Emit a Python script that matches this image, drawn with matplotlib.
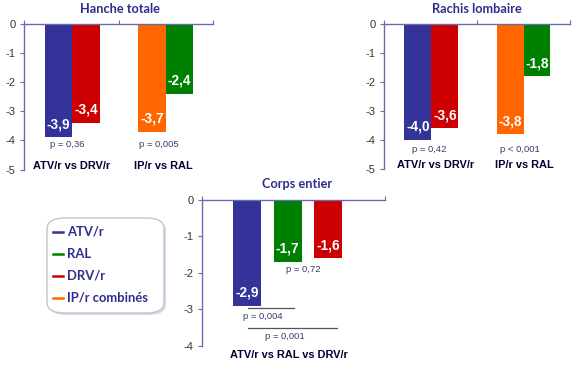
import matplotlib
matplotlib.use("Agg")
import matplotlib.pyplot as plt
from matplotlib.patches import FancyBboxPatch
from matplotlib.lines import Line2D

plt.rcParams['axes.unicode_minus'] = False

# ---------------- data ----------------
hanche_labels = ["ATV/r", "DRV/r", "IP/r", "RAL"]
hanche_values = [-3.9, -3.4, -3.7, -2.4]
rachis_values = [-4.0, -3.6, -3.8, -1.8]
corps_labels = ["ATV/r", "RAL", "DRV/r"]
corps_values = [-2.9, -1.7, -1.6]
pair_categories = ["ATV/r vs DRV/r", "IP/r vs RAL"]
corps_category = "ATV/r vs RAL vs DRV/r"
hanche_p = ["p = 0,36", "p = 0,005"]
rachis_p = ["p = 0,42", "p < 0,001"]
corps_p = ["p = 0,72", "p = 0,004", "p = 0,001"]
titles = ["Hanche totale", "Rachis lombaire", "Corps entier"]
legend_labels = ["ATV/r", "RAL", "DRV/r", "IP/r combinés"]

BLUE, GREEN, RED, ORANGE = "#333399", "#008000", "#CC0000", "#FF6600"
color_of = {"ATV/r": BLUE, "RAL": GREEN, "DRV/r": RED, "IP/r": ORANGE, "IP/r combinés": ORANGE}
AXCOL = "#6A6AAE"
TITLECOL = "#2E2E8C"
PCOL = "#3A3A6E"

W, H = 585, 366
fig = plt.figure(figsize=(W / 100, H / 100), dpi=100)
fig.patch.set_facecolor("white")

TITLE_FONT = dict(family=["Lato", "DejaVu Sans"], fontweight="bold", fontsize=9.2, color=TITLECOL)
ARIAL = ["Liberation Sans", "DejaVu Sans"]


def px_axes(left, top, right, bottom):
    return fig.add_axes([left / W, 1 - bottom / H, (right - left) / W, (bottom - top) / H])


def style_axes(ax, ymin, xmax):
    ax.set_ylim(ymin, 0)
    ax.set_xlim(0, xmax)
    for s in ["right", "bottom"]:
        ax.spines[s].set_visible(False)
    for s in ["left", "top"]:
        ax.spines[s].set_color(AXCOL)
        ax.spines[s].set_linewidth(1.0)
    ax.xaxis.set_ticks_position("top")
    ax.set_xticks(range(0, xmax + 1))
    ax.set_xticklabels([])
    ax.tick_params(axis="x", direction="out", length=3, color=AXCOL)
    yt = list(range(int(ymin), 1))
    ax.set_yticks(yt)
    ax.set_yticklabels([str(v) for v in yt], family=ARIAL, fontsize=8, color="#333333")
    ax.tick_params(axis="y", direction="out", length=3, color=AXCOL, pad=3)
    ax.patch.set_alpha(0)


def fmt(v):
    return f"{v:.1f}".replace(".", ",")


def bar_labels(ax, xs, vals):
    for x, v in zip(xs, vals):
        ax.annotate(fmt(v), xy=(x, v), xytext=(0, 9.5), textcoords="offset points",
                    ha="center", va="center", color="white", fontweight="bold",
                    family=ARIAL, fontsize=9.8)


def pair_panel(ax, values, pvals, p_pos, cat_pos, p_y):
    centers = [0.51, 1.5]
    off, bw = 0.145, 0.29
    xs = [centers[0] - off, centers[0] + off, centers[1] - off, centers[1] + off]
    cols = [color_of[l] for l in hanche_labels]
    ax.bar(xs, values, width=bw, color=cols, align="center")
    bar_labels(ax, xs, values)
    for px, t in zip(p_pos, pvals):
        ax.text(px, p_y, t, ha="center", va="center", fontsize=6.8, color=PCOL, family=ARIAL)
    for cx, t in zip(cat_pos, pair_categories):
        ax.text(cx, -4.87, t, ha="center", va="center", fontsize=7.9, fontweight="bold",
                color="#000033", family=ARIAL)


# Panel 1 : Hanche totale
ax1 = px_axes(24, 24, 213, 169.5)
style_axes(ax1, -5, 2)
pair_panel(ax1, hanche_values, hanche_p, [0.455, 1.43], [0.508, 1.47], -4.15)
fig.text(120 / W, 1 - 9 / H, titles[0], ha="center", va="center", **TITLE_FONT)

# Panel 2 : Rachis lombaire
ax2 = px_axes(384, 24, 570, 169)
style_axes(ax2, -5, 2)
pair_panel(ax2, rachis_values, rachis_p, [0.484, 1.462], [0.559, 1.505], -4.33)
fig.text(477 / W, 1 - 9 / H, titles[1], ha="center", va="center", **TITLE_FONT)

# Panel 3 : Corps entier
ax3 = px_axes(202, 200, 385, 345.7)
style_axes(ax3, -4, 1)
xs3 = [0.246, 0.468, 0.689]
ax3.bar(xs3, corps_values, width=0.153, color=[color_of[l] for l in corps_labels])
bar_labels(ax3, xs3, corps_values)
ax3.text(0.552, -1.92, corps_p[0], ha="center", va="center", fontsize=6.8, color=PCOL, family=ARIAL)
ax3.plot([0.251, 0.503], [-2.97, -2.97], color="#555555", lw=0.9, clip_on=False)
ax3.text(0.333, -3.21, corps_p[1], ha="center", va="center", fontsize=6.8, color=PCOL, family=ARIAL)
ax3.plot([0.251, 0.738], [-3.52, -3.52], color="#555555", lw=0.9, clip_on=False)
ax3.text(0.454, -3.74, corps_p[2], ha="center", va="center", fontsize=6.8, color=PCOL, family=ARIAL)
ax3.text(0.475, -4.26, corps_category, ha="center", va="center", fontsize=7.9, fontweight="bold",
         color="#000033", family=ARIAL, clip_on=False)
fig.text(297 / W, 1 - 184 / H, titles[2], ha="center", va="center", **TITLE_FONT)

# Legend box
bx0, by0, bx1, by1 = 47, 218, 164, 313
shadow = FancyBboxPatch(((bx0 + 2) / W, 1 - (by1 + 2) / H), (bx1 - bx0) / W, (by1 - by0) / H,
                        boxstyle="round,pad=0,rounding_size=0.03", transform=fig.transFigure,
                        facecolor="#D8D8E0", edgecolor="none", zorder=1)
box = FancyBboxPatch((bx0 / W, 1 - by1 / H), (bx1 - bx0) / W, (by1 - by0) / H,
                     boxstyle="round,pad=0,rounding_size=0.03", transform=fig.transFigure,
                     facecolor="white", edgecolor="#C4C4D8", lw=1.0, zorder=2)
fig.patches.extend([shadow, box])
rows = [232, 254, 276, 298]
for y, lab in zip(rows, legend_labels):
    fig.lines.append(Line2D([53 / W, 63 / W], [1 - y / H, 1 - y / H], transform=fig.transFigure,
                            color=color_of[lab], lw=1.8, zorder=3))
    fig.text(67 / W, 1 - y / H, lab, ha="left", va="center", family=["Lato", "DejaVu Sans"],
             fontweight="bold", fontsize=9.4, color=TITLECOL, zorder=3)

fig.savefig("out.png", dpi=100, facecolor="white")
